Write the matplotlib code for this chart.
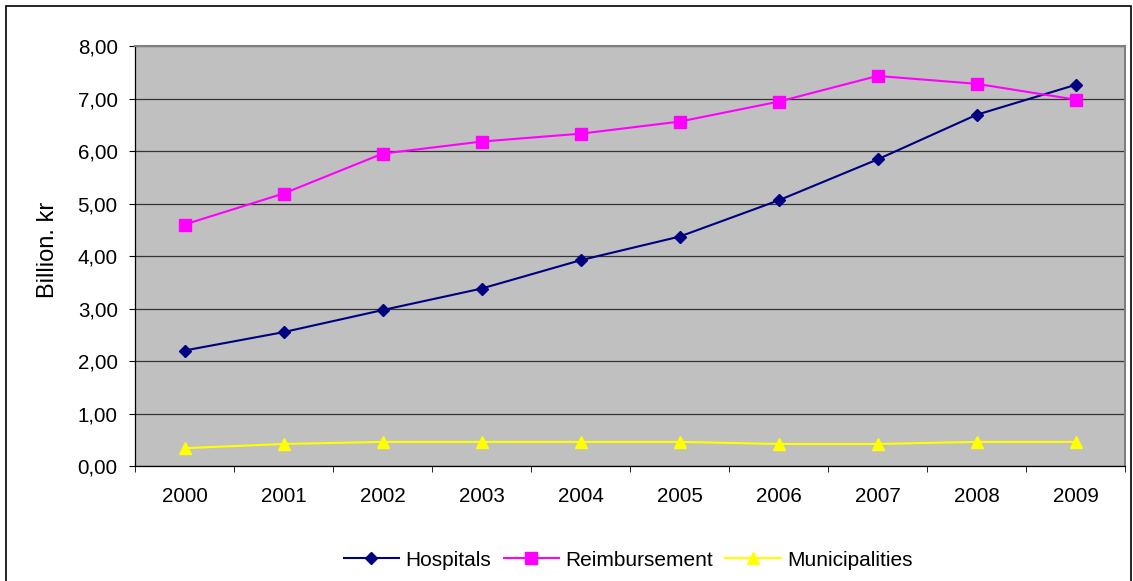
import matplotlib.pyplot as plt
import matplotlib
from matplotlib.patches import Rectangle
from matplotlib.ticker import FuncFormatter

matplotlib.rc('font', family=['Liberation Sans', 'DejaVu Sans'], size=14.8)

years = ['2000', '2001', '2002', '2003', '2004', '2005', '2006', '2007', '2008', '2009']
hospitals = [2.20, 2.55, 2.97, 3.38, 3.92, 4.37, 5.06, 5.84, 6.69, 7.26]
reimbursement = [4.60, 5.19, 5.95, 6.18, 6.33, 6.56, 6.94, 7.43, 7.28, 6.98]
municipalities = [0.34, 0.42, 0.46, 0.46, 0.46, 0.46, 0.42, 0.42, 0.46, 0.46]

fig = plt.figure(figsize=(11.33, 5.81), dpi=100)
ax = fig.add_axes([0.1192, 0.1979, 0.8738, 0.7229])
ax.set_facecolor('#C0C0C0')

x = list(range(len(years)))
ax.plot(x, hospitals, color='#000080', lw=1.5, marker='D', ms=6.5, label='Hospitals')
ax.plot(x, reimbursement, color='#FF00FF', lw=1.5, marker='s', ms=8, label='Reimbursement')
ax.plot(x, municipalities, color='#FFFF00', lw=1.5, marker='^', ms=9, label='Municipalities')

ax.set_xlim(-0.5, len(years) - 0.5)
ax.set_ylim(0, 8)
ax.set_yticks(range(0, 9))
ax.yaxis.set_major_formatter(FuncFormatter(lambda v, p: f'{v:.2f}'.replace('.', ',')))
ax.set_xticks(x)
ax.set_xticklabels(years)
ax.set_xticks([i - 0.5 for i in range(len(years) + 1)], minor=True)
ax.tick_params(axis='x', which='major', length=0, pad=15)
ax.tick_params(axis='x', which='minor', length=4, color='black', direction='out')
ax.tick_params(axis='y', length=4.5, color='black', direction='out', pad=8)
ax.grid(axis='y', color='#333333', lw=0.9)
ax.set_axisbelow(True)

for s in ['top', 'right']:
    ax.spines[s].set_color('#808080')
    ax.spines[s].set_linewidth(1.5)
for s in ['left', 'bottom']:
    ax.spines[s].set_color('black')
    ax.spines[s].set_linewidth(0.9)

ax.set_ylabel('Billion. kr', fontsize=17)
ax.yaxis.set_label_coords(-0.077, 0.515)

ax.legend(loc='center', bbox_to_anchor=(0.498, -0.224), ncol=3, frameon=False,
          handlelength=2.65, handletextpad=0.3, columnspacing=0.6, fontsize=15)

fig.patches.append(Rectangle((6 / 1133, -0.05), 1125 / 1133, 1 - 6 / 581 + 0.05,
                             transform=fig.transFigure, fill=False,
                             edgecolor='black', lw=1.2))

fig.savefig('out.png', dpi=100)
